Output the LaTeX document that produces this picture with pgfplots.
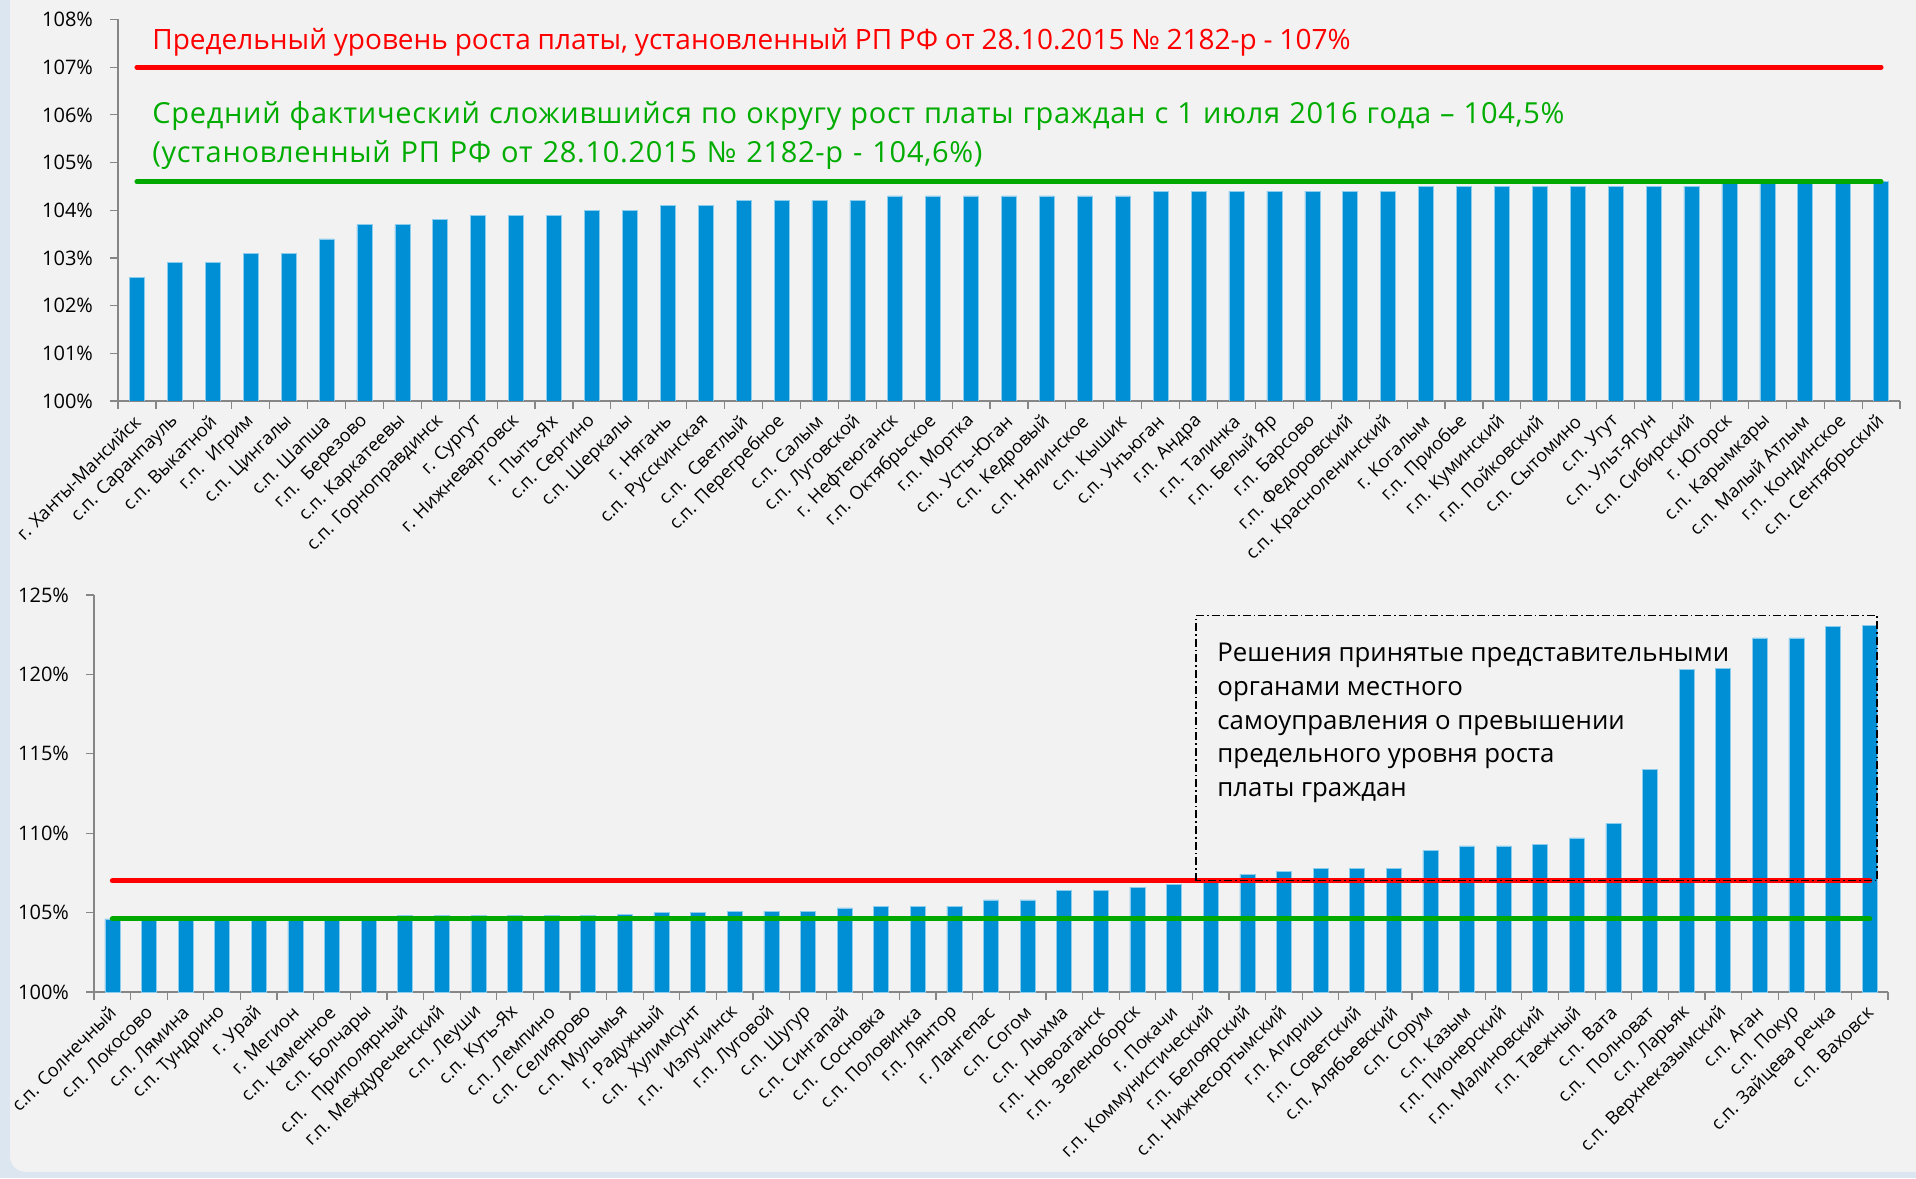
\documentclass[border=0pt]{standalone}
\usepackage{fontspec}
\setmainfont{Open Sans}
\usepackage{pgfplots}
\pgfplotsset{compat=1.18}
\definecolor{barblue}{RGB}{0,142,212}
\definecolor{lgreen}{RGB}{0,168,0}
\definecolor{tgreen}{RGB}{0,172,0}
\definecolor{bg}{RGB}{242,242,242}
\definecolor{edge}{RGB}{220,230,241}
\definecolor{axgray}{RGB}{134,134,134}
\pgfplotsset{
  mychart/.style={
    scale only axis,
    anchor=south west,
    axis x line*=bottom,
    axis y line*=left,
    axis line style={axgray, line width=0.8pt},
    tick align=outside,
    major tick length=4pt,
    minor tick length=4pt,
    major x tick style={draw=none},
    minor x tick style={draw=axgray, line width=0.6pt},
    major y tick style={draw=axgray, line width=0.6pt},
    yticklabel style={font=\fontsize{10}{12}\selectfont, xshift=-5pt},
    xticklabel style={yshift=-4pt, xshift=1pt, rotate=45, anchor=east, font=\fontsize{9.1}{11}\selectfont, inner sep=1pt},
    clip=true,
  }
}
\begin{document}
\begin{tikzpicture}[x=1pt,y=1pt]
\fill[edge] (0,0) rectangle (958,589);
\fill[bg, rounded corners=8pt] (5,3) rectangle (975,600);

% ---------------- top chart ----------------
\begin{axis}[mychart,
  at={(59pt,388.5pt)}, width=891pt, height=190.75pt,
  xmin=-0.5, xmax=46.5, ymin=100, ymax=108,
  ytick={100,101,...,108},
  yticklabels={100\%,101\%,102\%,103\%,104\%,105\%,106\%,107\%,108\%},
  xtick={0,1,...,46},
  minor xtick={-0.5,0.5,...,46.5},
  xticklabels={г. Ханты-Мансийск,с.п. Саранпауль,с.п. Выкатной,г.п.~ Игрим,с.п. Цингалы,с.п. Шапша,г.п.~ Березово,с.п. Каркатеевы,с.п. Горноправдинск,г. Сургут,г. Нижневартовск,г. Пыть-Ях,с.п. Сергино,с.п. Шеркалы,г. Нягань,с.п. Русскинская,с.п.~ Светлый,с.п. Перегребное,с.п. Салым,с.п. Луговской,г. Нефтеюганск,г.п. Октябрьское,г.п. Мортка,с.п. Усть-Юган,с.п. Кедровый,с.п. Нялинское,с.п. Кышик,с.п. Унъюган,г.п. Андра,г.п. Талинка,г.п. Белый Яр,г.п. Барсово,г.п. Федоровский,с.п. Красноленинский,г. Когалым,г.п. Приобье,г.п. Куминский,г.п. Пойковский,с.п. Сытомино,с.п. Угут,с.п. Ульт-Ягун,с.п. Сибирский,г. Югорск,с.п. Карымкары,с.п. Малый Атлым,г.п. Кондинское,с.п. Сентябрьский},
]
\addplot[ybar, bar width=7.5pt, fill=barblue, draw=barblue!45!white, line width=0.3pt] coordinates {
(0,102.6) (1,102.9) (2,102.9) (3,103.1) (4,103.1) (5,103.4) (6,103.7) (7,103.7)
(8,103.8) (9,103.9) (10,103.9) (11,103.9) (12,104.0) (13,104.0) (14,104.1) (15,104.1)
(16,104.2) (17,104.2) (18,104.2) (19,104.2) (20,104.3) (21,104.3) (22,104.3) (23,104.3)
(24,104.3) (25,104.3) (26,104.3) (27,104.4) (28,104.4) (29,104.4) (30,104.4) (31,104.4)
(32,104.4) (33,104.4) (34,104.5) (35,104.5) (36,104.5) (37,104.5) (38,104.5) (39,104.5)
(40,104.5) (41,104.5) (42,104.6) (43,104.6) (44,104.6) (45,104.6) (46,104.6)};
\addplot[red, line width=2.5pt, line cap=round] coordinates {(0,107) (46,107)};
\addplot[lgreen, line width=2.5pt, line cap=round] coordinates {(0,104.6) (46,104.6)};
\end{axis}

\node[anchor=base west, text=red, font=\fontsize{14}{16}\selectfont, inner sep=0pt] at (76,564) {\hbox to 599pt{Предельный уровень роста платы, установленный РП РФ от 28.10.2015 № 2182-р - 107\%}};
\node[anchor=base west, text=tgreen, font=\fontsize{14.5}{16}\selectfont\addfontfeature{LetterSpace=2.4}, inner sep=0pt] at (76,527) {\hbox to 706pt{Средний фактический сложившийся по округу рост платы граждан с 1 июля 2016 года – 104,5\%}};
\node[anchor=base west, text=tgreen, font=\fontsize{14.5}{16}\selectfont\addfontfeature{LetterSpace=2.4}, inner sep=0pt] at (76,507.7) {\hbox to 415pt{(установленный РП РФ от 28.10.2015 № 2182-р - 104,6\%)}};

% ---------------- bottom chart ----------------
\begin{axis}[mychart,
  at={(47pt,93pt)}, width=897pt, height=198.5pt,
  xmin=-0.5, xmax=48.5, ymin=100, ymax=125,
  ytick={100,105,...,125},
  yticklabels={100\%,105\%,110\%,115\%,120\%,125\%},
  xtick={0,1,...,48},
  minor xtick={-0.5,0.5,...,48.5},
  xticklabels={с.п. Солнечный,с.п. Локосово,с.п. Лямина,с.п. Тундрино,г. Урай,г. Мегион,с.п. Каменное,с.п. Болчары,с.п.~~ Приполярный,г.п. Междуреченский,с.п. Леуши,с.п. Куть-Ях,с.п. Лемпино,с.п. Селиярово,с.п. Мулымья,г. Радужный,с.п.~ Хулимсунт,г.п.~ Излучинск,г.п. Луговой,с.п. Шугур,с.п. Сингапай,с.п.~ Сосновка,с.п. Половинка,г.п. Лянтор,г. Лангепас,с.п. Согом,с.п.~ Лыхма,г.п.~ Новоаганск,г.п.~ Зеленоборск,г. Покачи,г.п. Коммунистический,г.п. Белоярский,с.п. Нижнесортымский,г.п. Агириш,г.п. Советский,с.п. Алябьевский,с.п. Сорум,с.п. Казым,г.п. Пионерский,г.п. Малиновский,г.п. Таежный,с.п. Вата,с.п.~ Полноват,с.п. Ларьяк,с.п. Верхнеказымский,с.п. Аган,с.п. Покур,с.п. Зайцева речка,с.п. Ваховск},
]
\addplot[ybar, bar width=7.5pt, fill=barblue, draw=barblue!45!white, line width=0.3pt] coordinates {
(0,104.6) (1,104.6) (2,104.6) (3,104.6) (4,104.6) (5,104.6) (6,104.6) (7,104.6)
(8,104.8) (9,104.8) (10,104.8) (11,104.8) (12,104.8) (13,104.8) (14,104.9) (15,105.0)
(16,105.0) (17,105.1) (18,105.1) (19,105.1) (20,105.3) (21,105.4) (22,105.4) (23,105.4)
(24,105.8) (25,105.8) (26,106.4) (27,106.4) (28,106.6) (29,106.8) (30,107.0) (31,107.4)
(32,107.6) (33,107.8) (34,107.8) (35,107.8) (36,108.9) (37,109.2) (38,109.2) (39,109.3)
(40,109.7) (41,110.6) (42,114.0) (43,120.3) (44,120.4) (45,122.3) (46,122.3) (47,123.0)
(48,123.1)};
\addplot[red, line width=2.5pt, line cap=round] coordinates {(0,107) (48,107)};
\addplot[lgreen, line width=2.5pt, line cap=round] coordinates {(0,104.6) (48,104.6)};
\draw[black, line width=0.6pt, dash pattern=on 4pt off 1.5pt on 0.8pt off 1.5pt] (axis cs:29.6,107) rectangle (axis cs:48.2,123.7);
\end{axis}

\begin{scope}[every node/.style={anchor=base west, inner sep=0pt, font=\fontsize{12.9}{15}\selectfont}]
\node at (608.5,258.2) {Решения принятые представительными};
\node at (608.5,241.3) {органами местного};
\node at (608.5,224.4) {самоуправления о превышении};
\node at (608.5,207.5) {предельного уровня роста};
\node at (608.5,190.6) {платы граждан};
\end{scope}

\pgfresetboundingbox
\useasboundingbox (0,0) rectangle (958,589);
\end{tikzpicture}
\end{document}
